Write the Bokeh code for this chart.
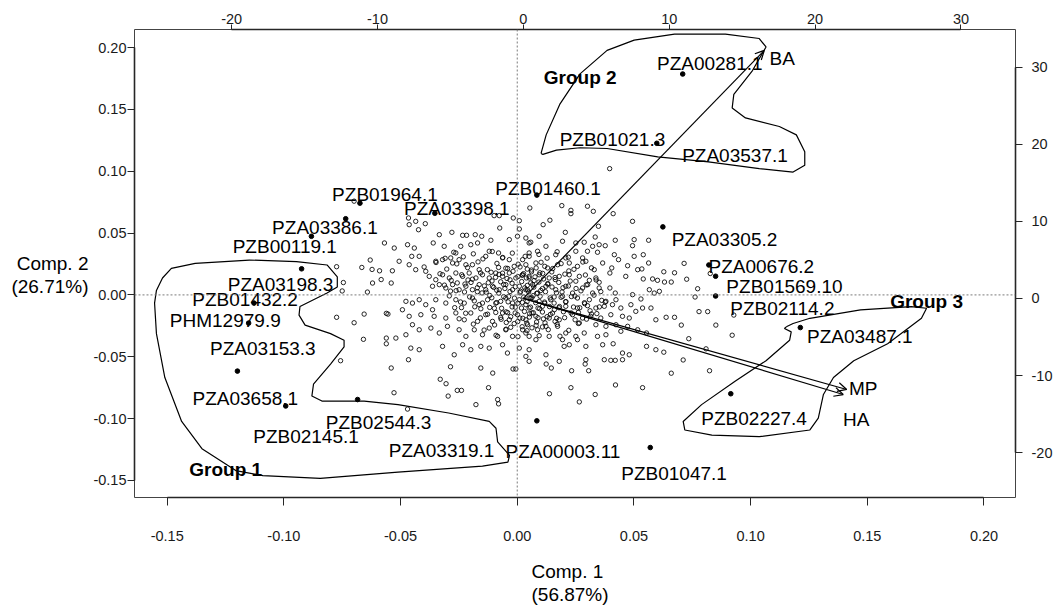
from bokeh.plotting import figure
from bokeh.models import (Range1d, LinearAxis, FixedTicker, PrintfTickFormatter,
                          Span, Arrow, OpenHead, Title)
from bokeh.core.properties import value
from bokeh.embed import file_html
from bokeh.resources import INLINE

FONT = "Liberation Sans"

# ---------------- data ----------------
# Comp.1 / Comp.2 scores of the unlabelled markers (open circles)
background_scores = [
    (-0.0699, 0.0758), (-0.0774, 0.0228), (-0.0745, 0.0100), (-0.0750, 0.0032), (-0.0666, 0.0222),
    (-0.0630, 0.0282), (-0.0622, 0.0206), (-0.0590, 0.0195), (-0.0642, 0.0023), (-0.0620, 0.0096),
    (-0.0583, 0.0124), (-0.0569, 0.0420), (-0.0540, 0.0096), (-0.0535, 0.0195),
    (-0.0774, -0.0181), (-0.0656, -0.0155), (-0.0699, -0.0225), (-0.0659, -0.0359), (-0.0757, -0.0532),
    (-0.0561, -0.0149), (-0.0554, -0.0155), (-0.0561, -0.0349), (-0.0561, -0.0395), (-0.0540, -0.0591),
    (-0.0528, -0.0791), (-0.0470, -0.0923), (-0.0286, -0.0581), (-0.0330, -0.0682), (-0.0305, -0.0718),
    (-0.0296, -0.0818), (-0.0257, -0.0772), (-0.0239, -0.0772), (-0.0177, -0.0887), (-0.0156, -0.0591),
    (-0.0105, -0.0632), (-0.0123, -0.0750), (-0.0084, -0.0846), (-0.0080, -0.0881), (-0.0018, -0.0599),
    (-0.0006, -0.0599),
    (-0.0466, 0.0622), (-0.0463, 0.0568), (-0.0435, 0.0595), (-0.0394, 0.0576), (-0.0423, 0.0527),
    (-0.0334, 0.0487), (-0.0280, 0.0506), (-0.0234, 0.0482), (-0.0217, 0.0482), (-0.0180, 0.0487),
    (-0.0152, 0.0474), (-0.0099, 0.0641), (-0.0077, 0.0641), (-0.0075, 0.0541), (-0.0017, 0.0622),
    (0.0009, 0.0600), (0.0009, 0.0533),
    (-0.0470, 0.0406), (-0.0441, 0.0379), (-0.0452, 0.0312), (-0.0420, 0.0312), (-0.0360, 0.0420),
    (-0.0313, 0.0393), (-0.0263, 0.0339), (-0.0242, 0.0393), (-0.0199, 0.0406), (-0.0170, 0.0420),
    (-0.0113, 0.0442), (-0.0034, 0.0447), (0.0001, 0.0474), (0.0037, 0.0460), (0.0058, 0.0426),
    (-0.0527, 0.0379), (-0.0506, 0.0272), (-0.0463, 0.0244), (-0.0435, 0.0204), (-0.0399, 0.0226),
    (-0.0392, 0.0191), (-0.0349, 0.0272), (-0.0320, 0.0285), (-0.0285, 0.0299), (-0.0277, 0.0258),
    (-0.0249, 0.0285), (-0.0220, 0.0244), (-0.0192, 0.0244), (-0.0163, 0.0204), (-0.0135, 0.0312),
    (-0.0120, 0.0353), (-0.0080, 0.0339), (-0.0063, 0.0299), (-0.0034, 0.0285), (-0.0013, 0.0231),
    (0.0023, 0.0285), (0.0051, 0.0339),
    (-0.0377, 0.0150), (-0.0349, 0.0123), (-0.0320, 0.0163), (-0.0291, 0.0137), (-0.0263, 0.0177),
    (-0.0234, 0.0150), (-0.0206, 0.0177), (-0.0177, 0.0137), (-0.0149, 0.0163), (-0.0120, 0.0137),
    (-0.0092, 0.0177), (-0.0063, 0.0150), (-0.0034, 0.0177), (-0.0006, 0.0137), (0.0023, 0.0163),
    (0.0051, 0.0137),
    (-0.0363, 0.0070), (-0.0334, 0.0083), (-0.0306, 0.0056), (-0.0277, 0.0083), (-0.0249, 0.0042),
    (-0.0220, 0.0070), (-0.0192, 0.0042), (-0.0163, 0.0083), (-0.0135, 0.0042), (-0.0106, 0.0070),
    (-0.0077, 0.0042), (-0.0049, 0.0083), (-0.0020, 0.0042), (0.0009, 0.0070), (0.0037, 0.0042),
    (0.0066, 0.0083),
    (-0.0477, -0.0052), (-0.0449, -0.0066), (-0.0420, -0.0039), (-0.0392, -0.0079), (-0.0349, -0.0039),
    (-0.0306, -0.0066), (-0.0263, -0.0039), (-0.0227, -0.0066), (-0.0192, -0.0025), (-0.0163, -0.0079),
    (-0.0127, -0.0039), (-0.0092, -0.0066), (-0.0049, -0.0025), (-0.0020, -0.0066), (0.0009, -0.0039),
    (0.0037, -0.0079), (0.0058, -0.0025),
    (-0.0492, -0.0120), (-0.0463, -0.0173), (-0.0413, -0.0160), (-0.0363, -0.0120), (-0.0356, -0.0173),
    (-0.0306, -0.0187), (-0.0263, -0.0146), (-0.0227, -0.0201), (-0.0199, -0.0146), (-0.0170, -0.0214),
    (-0.0135, -0.0160), (-0.0106, -0.0214), (-0.0063, -0.0146), (-0.0034, -0.0201), (0.0001, -0.0160),
    (0.0037, -0.0201), (0.0063, -0.0146),
    (-0.0520, -0.0349), (-0.0477, -0.0322), (-0.0449, -0.0241), (-0.0420, -0.0282), (-0.0370, -0.0268),
    (-0.0334, -0.0308), (-0.0299, -0.0254), (-0.0249, -0.0282), (-0.0220, -0.0335), (-0.0184, -0.0282),
    (-0.0149, -0.0322), (-0.0120, -0.0268), (-0.0084, -0.0335), (-0.0049, -0.0282), (-0.0020, -0.0335),
    (0.0023, -0.0282), (0.0051, -0.0335),
    (-0.0456, -0.0430), (-0.0420, -0.0443), (-0.0320, -0.0416), (-0.0270, -0.0484), (-0.0234, -0.0403),
    (-0.0199, -0.0443), (-0.0156, -0.0416), (-0.0120, -0.0430), (-0.0063, -0.0403), (-0.0042, -0.0470),
    (0.0009, -0.0430), (0.0037, -0.0497), (0.0051, -0.0537), (-0.0466, -0.0524),
    (0.0054, 0.0703), (0.0191, 0.0722), (0.0230, 0.0684), (0.0230, 0.0657), (0.0301, 0.0717),
    (0.0326, 0.0676), (0.0411, 0.0657), (0.0111, 0.0568), (0.0140, 0.0604), (0.0206, 0.0506),
    (0.0348, 0.0555), (0.0494, 0.0595), (0.0094, 0.0474),
    (0.0051, 0.0420), (0.0123, 0.0393), (0.0165, 0.0325), (0.0194, 0.0434), (0.0251, 0.0420),
    (0.0287, 0.0426), (0.0323, 0.0393), (0.0351, 0.0406), (0.0377, 0.0398), (0.0420, 0.0442),
    (0.0501, 0.0447), (0.0494, 0.0398), (0.0563, 0.0442), (0.0334, 0.0468), (0.0251, 0.0353),
    (0.0301, 0.0353), (0.0344, 0.0345), (0.0416, 0.0325), (0.0434, 0.0285), (0.0501, 0.0312),
    (0.0540, 0.0325), (0.0563, 0.0258), (0.0051, 0.0312), (0.0087, 0.0353), (0.0208, 0.0299),
    (0.0280, 0.0299),
    (0.0037, 0.0244), (0.0080, 0.0258), (0.0130, 0.0218), (0.0173, 0.0244), (0.0223, 0.0258),
    (0.0258, 0.0231), (0.0294, 0.0272), (0.0330, 0.0204), (0.0366, 0.0258), (0.0397, 0.0177),
    (0.0405, 0.0218), (0.0473, 0.0236), (0.0516, 0.0204), (0.0534, 0.0210), (0.0465, 0.0150),
    (0.0540, 0.0129), (0.0580, 0.0129), (0.0601, 0.0118), (0.0337, 0.0137), (0.0351, 0.0102),
    (0.0309, 0.0118), (0.0266, 0.0150), (0.0223, 0.0163), (0.0180, 0.0150), (0.0137, 0.0137),
    (0.0094, 0.0163), (0.0051, 0.0150),
    (0.0044, 0.0042), (0.0087, 0.0015), (0.0123, 0.0070), (0.0165, 0.0042), (0.0208, 0.0070),
    (0.0237, 0.0015), (0.0280, 0.0056), (0.0323, 0.0015), (0.0351, 0.0056), (0.0397, 0.0056),
    (0.0420, 0.0015), (0.0423, -0.0039), (0.0494, 0.0002), (0.0530, -0.0033), (0.0566, 0.0042),
    (0.0587, 0.0015), (0.0609, 0.0029), (0.0380, -0.0052), (0.0309, -0.0039), (0.0258, -0.0025),
    (0.0194, -0.0011), (0.0144, -0.0039), (0.0094, -0.0052), (0.0051, -0.0025),
    (0.0051, -0.0106), (0.0108, -0.0092), (0.0159, -0.0120), (0.0208, -0.0092), (0.0258, -0.0106),
    (0.0301, -0.0087), (0.0337, -0.0106), (0.0373, -0.0092), (0.0408, -0.0079), (0.0444, -0.0106),
    (0.0487, -0.0079), (0.0508, -0.0133), (0.0537, -0.0106), (0.0573, -0.0106), (0.0594, -0.0201),
    (0.0080, -0.0173), (0.0137, -0.0187), (0.0180, -0.0201), (0.0237, -0.0160), (0.0280, -0.0187),
    (0.0315, -0.0173), (0.0358, -0.0187), (0.0401, -0.0160), (0.0451, -0.0173), (0.0480, -0.0187),
    (0.0044, -0.0241), (0.0087, -0.0282), (0.0123, -0.0254), (0.0173, -0.0254), (0.0208, -0.0308),
    (0.0266, -0.0227), (0.0287, -0.0308), (0.0337, -0.0241), (0.0380, -0.0254), (0.0423, -0.0241),
    (0.0444, -0.0294), (0.0473, -0.0254), (0.0380, -0.0322), (0.0344, -0.0335), (0.0251, -0.0335),
    (0.0194, -0.0362), (0.0137, -0.0335), (0.0080, -0.0362), (0.0037, -0.0308), (0.0554, -0.0308),
    (0.0516, -0.0282),
    (0.0051, -0.0443), (0.0123, -0.0484), (0.0201, -0.0416), (0.0223, -0.0403), (0.0258, -0.0362),
    (0.0294, -0.0416), (0.0366, -0.0403), (0.0411, -0.0395), (0.0451, -0.0470), (0.0480, -0.0484),
    (0.0373, -0.0524), (0.0401, -0.0529), (0.0420, -0.0529), (0.0451, -0.0524), (0.0294, -0.0524),
    (0.0180, -0.0537), (0.0554, -0.0416), (0.0594, -0.0443),
    (0.0396, 0.1021), (0.0628, 0.0187), (0.0674, 0.0179), (0.0715, 0.0255), (0.0726, 0.0127),
    (0.0773, 0.0050), (0.0827, 0.0173), (0.0631, 0.0104), (0.0660, 0.0104),
    (0.0762, -0.0017), (0.0779, -0.0135), (0.0816, -0.0135), (0.0851, -0.0244), (0.0921, -0.0326),
    (0.0928, -0.0163), (0.0638, -0.0181), (0.0674, -0.0181), (0.0703, -0.0244), (0.0735, -0.0354),
    (0.0809, -0.0436), (0.0711, -0.0526), (0.0824, -0.0613), (0.0660, -0.0633), (0.0628, -0.0463),
    (0.0537, -0.0750), (0.0421, -0.0728), (0.0334, -0.0805), (0.0266, -0.0865), (0.0230, -0.0750),
    (0.0138, -0.0799), (0.0233, -0.0613), (0.0291, -0.0559), (0.0306, -0.0613), (0.0146, -0.0591),
    (0.0124, -0.0559),
]
# the solid black core of the cloud (estimated by eye)
core_scores = [
    (-0.0080, 0.0222), (-0.0041, 0.0214), (0.0012, 0.0226), (0.0043, 0.0209), (0.0081, 0.0218),
    (0.0118, 0.0231), (-0.0112, 0.0183), (-0.0063, 0.0176), (-0.0018, 0.0191), (0.0027, 0.0172),
    (0.0061, 0.0187), (0.0097, 0.0179), (0.0148, 0.0186), (-0.0093, 0.0142), (-0.0044, 0.0133),
    (0.0003, 0.0148), (0.0039, 0.0137), (0.0076, 0.0146), (0.0113, 0.0129), (0.0162, 0.0141),
    (-0.0124, 0.0098), (-0.0071, 0.0106), (-0.0022, 0.0094), (0.0019, 0.0108), (0.0058, 0.0097),
    (0.0093, 0.0104), (0.0131, 0.0092), (0.0178, 0.0101), (-0.0101, 0.0061), (-0.0053, 0.0052),
    (-0.0008, 0.0066), (0.0032, 0.0057), (0.0071, 0.0063), (0.0108, 0.0051), (0.0149, 0.0064),
    (0.0196, 0.0058), (-0.0133, 0.0022), (-0.0079, 0.0014), (-0.0031, 0.0027), (0.0012, 0.0018),
    (0.0049, 0.0024), (0.0083, 0.0012), (0.0121, 0.0026), (0.0168, 0.0017), (-0.0109, -0.0023),
    (-0.0058, -0.0014), (-0.0012, -0.0026), (0.0028, -0.0017), (0.0063, -0.0022), (0.0098, -0.0011),
    (0.0141, -0.0024), (0.0188, -0.0019), (0.0232, -0.0013), (-0.0088, -0.0062), (-0.0039, -0.0056),
    (0.0003, -0.0067), (0.0042, -0.0054), (0.0079, -0.0063), (0.0117, -0.0058), (0.0158, -0.0066),
    (0.0207, -0.0055), (-0.0118, -0.0101), (-0.0067, -0.0108), (-0.0022, -0.0097), (0.0018, -0.0106),
    (0.0057, -0.0099), (0.0096, -0.0111), (0.0138, -0.0094), (0.0179, -0.0104), (0.0241, -0.0098),
    (-0.0092, -0.0142), (-0.0048, -0.0137), (-0.0009, -0.0146), (0.0031, -0.0134), (0.0069, -0.0144),
    (0.0108, -0.0138), (0.0151, -0.0147), (0.0198, -0.0136), (-0.0071, -0.0182), (-0.0028, -0.0176),
    (0.0011, -0.0187), (0.0052, -0.0179), (0.0089, -0.0184), (0.0128, -0.0176), (0.0169, -0.0189),
    (-0.0047, -0.0223), (0.0002, -0.0216), (0.0041, -0.0228), (0.0083, -0.0219), (0.0119, -0.0226),
    (0.0162, -0.0214), (-0.0028, -0.0262), (0.0021, -0.0257), (0.0063, -0.0266), (0.0108, -0.0259),
    (-0.0198, 0.0101), (-0.0171, 0.0058), (-0.0226, 0.0024), (-0.0184, -0.0048), (-0.0151, 0.0016),
    (-0.0239, -0.0103), (-0.0211, 0.0121), (-0.0286, 0.0031), (-0.0257, 0.0097), (-0.0156, -0.0112),
    (0.0262, -0.0142), (0.0289, -0.0071), (0.0252, 0.0052), (0.0227, 0.0112), (0.0312, -0.0128),
    (0.0341, -0.0151), (0.0296, 0.0081), (0.0248, -0.0201), (0.0221, 0.0194), (0.0362, -0.0044),
]
# the dense ring around the core (estimated by eye)
inner_scores = [
    (-0.0272, 0.0345), (-0.0188, 0.0332), (-0.0107, 0.0351), (-0.0021, 0.0338), (0.0093, 0.0327),
    (0.0171, 0.0349), (-0.0309, 0.0296), (-0.0231, 0.0308), (-0.0147, 0.0291), (-0.0062, 0.0303),
    (0.0034, 0.0312), (0.0128, 0.0297), (0.0219, 0.0305), (-0.0348, 0.0262), (-0.0259, 0.0251),
    (-0.0168, 0.0267), (-0.0087, 0.0255), (0.0004, 0.0248), (0.0102, 0.0264), (0.0188, 0.0253),
    (0.0281, 0.0266), (-0.0302, 0.0209), (-0.0213, 0.0221), (-0.0128, 0.0204), (-0.0049, 0.0216),
    (0.0061, 0.0201), (0.0152, 0.0213), (0.0243, 0.0207), (0.0318, 0.0219), (-0.0331, 0.0171),
    (-0.0238, 0.0163), (-0.0157, 0.0178), (-0.0078, 0.0166), (0.0021, 0.0159), (0.0109, 0.0174),
    (0.0204, 0.0168), (0.0292, 0.0161), (-0.0283, 0.0118), (-0.0192, 0.0127), (-0.0108, 0.0113),
    (-0.0031, 0.0122), (0.0072, 0.0116), (0.0163, 0.0124), (0.0251, 0.0111), (0.0338, 0.0121),
    (-0.0312, 0.0079), (-0.0224, 0.0088), (-0.0141, 0.0073), (-0.0058, 0.0084), (0.0043, 0.0077),
    (0.0131, 0.0086), (0.0219, 0.0072), (0.0302, 0.0083), (-0.0262, 0.0034), (-0.0171, 0.0026),
    (-0.0088, 0.0038), (0.0014, 0.0029), (0.0101, 0.0036), (0.0192, 0.0024), (0.0273, 0.0033),
    (0.0358, 0.0027), (-0.0291, -0.0008), (-0.0204, -0.0016), (-0.0118, -0.0004), (-0.0037, -0.0013),
    (0.0068, -0.0006), (0.0158, -0.0017), (0.0247, -0.0009), (0.0329, -0.0002), (-0.0243, -0.0057),
    (-0.0149, -0.0066), (-0.0071, -0.0052), (0.0022, -0.0061), (0.0118, -0.0068), (0.0209, -0.0055),
    (0.0288, -0.0063), (0.0377, -0.0058), (-0.0268, -0.0103), (-0.0182, -0.0096), (-0.0098, -0.0108),
    (-0.0008, -0.0099), (0.0089, -0.0106), (0.0181, -0.0094), (0.0268, -0.0104), (0.0352, -0.0097),
    (-0.0221, -0.0148), (-0.0127, -0.0156), (-0.0041, -0.0143), (0.0053, -0.0152), (0.0142, -0.0158),
    (0.0231, -0.0146), (0.0318, -0.0154), (-0.0249, -0.0193), (-0.0158, -0.0186), (-0.0069, -0.0197),
    (0.0024, -0.0189), (0.0112, -0.0194), (0.0203, -0.0184), (0.0297, -0.0196), (-0.0188, -0.0236),
    (-0.0097, -0.0243), (-0.0013, -0.0232), (0.0081, -0.0246), (0.0171, -0.0238), (0.0262, -0.0231),
    (-0.0142, -0.0284), (-0.0048, -0.0277), (0.0042, -0.0289), (0.0133, -0.0281), (0.0221, -0.0286),
    (-0.0091, -0.0326), (0.0003, -0.0337), (0.0094, -0.0329), (0.0183, -0.0334),
]
all_scores = background_scores + core_scores + inner_scores
pc1 = [s[0] for s in all_scores]
pc2 = [s[1] for s in all_scores]

# highlighted (labelled) markers: filled dots
highlight_pc1 = [-0.0674, -0.0353, -0.0735, -0.0882, -0.0924, -0.1128, -0.1151, -0.1199, -0.0992,
                 -0.0684, 0.0084, 0.0570, 0.0915, 0.1213, 0.0850, 0.0850, 0.0821, 0.0624, 0.0084,
                 0.0709, 0.0598]
highlight_pc2 = [0.0742, 0.0660, 0.0616, 0.0474, 0.0211, -0.0066, -0.0228, -0.0616, -0.0898,
                 -0.0846, -0.1018, -0.1234, -0.0799, -0.0264, -0.0009, 0.0151, 0.0242, 0.0550, 0.0807,
                 0.1786, 0.1226]

marker_names = ["PZB01964.1", "PZA03398.1", "PZA03386.1", "PZB00119.1", "PZA03198.3",
                "PZB01432.2", "PHM12979.9", "PZA03153.3", "PZA03658.1", "PZB02145.1",
                "PZB02544.3", "PZA03319.1", "PZA00003.11", "PZB01047.1", "PZB02227.4",
                "PZA03487.1", "PZB02114.2", "PZB01569.10", "PZA00676.2", "PZA03305.2",
                "PZB01460.1", "PZA00281.1", "PZB01021.3", "PZA03537.1"]
name_pc1 = [-0.0567, -0.0259, -0.0824, -0.0996, -0.1014, -0.1166, -0.1251, -0.1090, -0.1165,
            -0.0905, -0.0594, -0.0324, 0.0196, 0.0672, 0.1015, 0.1468, 0.1136, 0.1145, 0.1046,
            0.0888, 0.0132, 0.0825, 0.0408, 0.0933]
name_pc2 = [0.0851, 0.0743, 0.0583, 0.0433, 0.0124, 0.0007, -0.0163, -0.0389, -0.0799,
            -0.1106, -0.0991, -0.1214, -0.1222, -0.1406, -0.0955, -0.0299, -0.0066, 0.0110, 0.0269,
            0.0488, 0.0903, 0.1909, 0.1299, 0.1166]

# trait loadings (secondary axes)
trait_names = ["BA", "MP", "HA"]
trait_load1 = [16.52, 22.17, 21.93]
trait_load2 = [32.19, -11.81, -12.47]
trait_text1 = [17.75, 23.30, 22.82]
trait_text2 = [31.77, -11.06, -15.10]

# group outlines
group1_pc1 = [-0.1546, -0.1520, -0.1482, -0.1380, -0.1148, -0.0946, -0.0815, -0.0771, -0.0771, -0.0815,
              -0.0931, -0.0935, -0.0909, -0.0800, -0.0742, -0.0742, -0.0800, -0.0873, -0.0880, -0.0837,
              -0.0656, -0.0511, -0.0294, -0.0120, -0.0091, -0.0084, -0.0033, -0.0040, -0.0149, -0.0511,
              -0.0844, -0.1090, -0.1206, -0.1351, -0.1438, -0.1510, -0.1546, -0.1554]
group1_pc2 = [0.0036, 0.0137, 0.0214, 0.0255, 0.0282, 0.0269, 0.0242, 0.0145, 0.0064, 0.0015,
              -0.0094, -0.0163, -0.0244, -0.0313, -0.0367, -0.0421, -0.0559, -0.0722, -0.0818, -0.0858,
              -0.0858, -0.0887, -0.0955, -0.1023, -0.1078, -0.1188, -0.1297, -0.1352, -0.1384, -0.1433,
              -0.1483, -0.1461, -0.1420, -0.1243, -0.1023, -0.0668, -0.0313, -0.0066]
group2_pc1 = [0.0102, 0.0124, 0.0182, 0.0269, 0.0385, 0.0501, 0.0674, 0.0892, 0.1037, 0.1066,
              0.1008, 0.0928, 0.0921, 0.0978, 0.1123, 0.1196, 0.1232, 0.1232, 0.1182, 0.1037,
              0.0819, 0.0602, 0.0385, 0.0269, 0.0168, 0.0110]
group2_pc2 = [0.1144, 0.1294, 0.1540, 0.1787, 0.1977, 0.2060, 0.2109, 0.2109, 0.2073, 0.2005,
              0.1814, 0.1622, 0.1512, 0.1431, 0.1362, 0.1294, 0.1158, 0.1048, 0.0993, 0.1021,
              0.1075, 0.1116, 0.1184, 0.1190, 0.1171, 0.1136]
group3_pc1 = [0.1153, 0.1182, 0.1254, 0.1471, 0.1688, 0.1754, 0.1732, 0.1587, 0.1442, 0.1355,
              0.1312, 0.1290, 0.1254, 0.1037, 0.0834, 0.0718, 0.0711, 0.0790, 0.0935, 0.1066,
              0.1167, 0.1174, 0.1145]
group3_pc2 = [-0.0258, -0.0231, -0.0189, -0.0121, -0.0094, -0.0108, -0.0189, -0.0395, -0.0532, -0.0668,
              -0.0805, -0.0996, -0.1092, -0.1146, -0.1133, -0.1092, -0.1023, -0.0887, -0.0696, -0.0532,
              -0.0367, -0.0299, -0.0272]
group_names = ["Group 1", "Group 2", "Group 3"]
group_text1 = [-0.1249, 0.0270, 0.1754]
group_text2 = [-0.1368, 0.1795, -0.0009]

score_ticks = [-0.15, -0.10, -0.05, 0.00, 0.05, 0.10, 0.15, 0.20]
loading_ticks = [-20, -10, 0, 10, 20, 30]
x_title = ["Comp. 1", "(56.87%)"]
y_title = ["Comp. 2", "(26.71%)"]

# ---------------- figure ----------------
p = figure(frame_width=881, frame_height=468,
           min_border_left=134, min_border_top=29, min_border_bottom=100, min_border_right=36,
           x_range=Range1d(-0.164, 0.2135), y_range=Range1d(-0.1638, 0.2146),
           output_backend="svg", toolbar_location=None)
p.extra_x_ranges = {"load": Range1d(-26.66, 33.74)}
p.extra_y_ranges = {"load": Range1d(-25.83, 34.90)}
p.xgrid.visible = False
p.ygrid.visible = False
p.outline_line_color = "#444444"
p.outline_line_width = 1
p.background_fill_color = "white"
p.border_fill_color = "white"


def style_axis(ax, standoff, tick_out):
    ax.axis_line_color = "#262626"
    ax.axis_line_width = 1.6
    ax.major_tick_line_color = "#262626"
    ax.major_tick_line_width = 1
    ax.major_tick_out = tick_out
    ax.major_tick_in = 0
    ax.minor_tick_line_color = None
    ax.major_label_text_font = FONT
    ax.major_label_text_font_size = "14.5px"
    ax.major_label_text_color = "#1a1a1a"
    ax.major_label_standoff = standoff


p.xaxis.ticker = FixedTicker(ticks=score_ticks)
p.xaxis.formatter = PrintfTickFormatter(format="%.2f")
p.xaxis.bounds = (score_ticks[0], score_ticks[-1])
style_axis(p.xaxis[0], 25, 8)
p.yaxis.ticker = FixedTicker(ticks=score_ticks)
p.yaxis.formatter = PrintfTickFormatter(format="%.2f")
p.yaxis.bounds = (score_ticks[0], score_ticks[-1])
style_axis(p.yaxis[0], 1, 7)

# y-axis title: a tick-less axis further out on the left, carrying only the label
# (a leading blank line moves the two visible lines down to where the reference has them)
y_title_axis = LinearAxis(ticker=FixedTicker(ticks=[]), bounds=(-0.120, 0.158),
                          axis_line_color=None, major_tick_line_color=None,
                          minor_tick_line_color=None, major_label_text_font_size="0px",
                          axis_label="\n" + "\n".join(y_title), axis_label_orientation="horizontal",
                          axis_label_text_font=FONT, axis_label_text_font_size="19px",
                          axis_label_text_font_style="normal", axis_label_text_color="black",
                          axis_label_text_line_height=1.1, axis_label_standoff=2)
p.add_layout(y_title_axis, "left")

top_axis = LinearAxis(x_range_name="load", ticker=FixedTicker(ticks=loading_ticks),
                      formatter=PrintfTickFormatter(format="%d"),
                      bounds=(loading_ticks[0], loading_ticks[-1]))
style_axis(top_axis, 1, 5)
p.add_layout(top_axis, "above")
right_axis = LinearAxis(y_range_name="load", ticker=FixedTicker(ticks=loading_ticks),
                        formatter=PrintfTickFormatter(format="%d"),
                        bounds=(loading_ticks[0], loading_ticks[-1]))
style_axis(right_axis, 9, 7)
p.add_layout(right_axis, "right")

# x-axis title: two lines under the tick labels
p.add_layout(Title(text="\n".join(x_title), align="left", offset=397, standoff=32,
                   text_font=FONT, text_font_size="19px", text_font_style="normal",
                   text_line_height=1.1, text_color="black"), "below")

# zero reference lines
for dim in ("height", "width"):
    p.add_layout(Span(location=0, dimension=dim, line_color="#7a7a7a",
                      line_dash="2 2", line_width=1))

# unlabelled markers
p.scatter(pc1, pc2, marker="circle", size=4.4, fill_color=None,
          line_color="black", line_width=0.85)

# group outlines
for gx, gy in ((group1_pc1, group1_pc2), (group2_pc1, group2_pc2), (group3_pc1, group3_pc2)):
    p.line(gx + gx[:1], gy + gy[:1], line_color="black", line_width=1.2)

# trait arrows
for lx, ly in zip(trait_load1, trait_load2):
    p.add_layout(Arrow(x_start=0, y_start=0, x_end=lx, y_end=ly,
                       x_range_name="load", y_range_name="load",
                       line_color="black", line_width=1.2,
                       end=OpenHead(size=9, line_color="black", line_width=1.2)))
p.text(trait_text1, trait_text2, text=trait_names, x_range_name="load", y_range_name="load",
       text_font=value(FONT), text_font_size="19px", text_align="center",
       text_baseline="middle", text_color="black", y_offset=5)

# highlighted markers
p.scatter(highlight_pc1, highlight_pc2, marker="circle", size=4.6, color="black")
p.text(name_pc1, name_pc2, text=marker_names, text_font=value(FONT), text_font_size="19px",
       text_align="center", text_baseline="middle", text_color="black", y_offset=5)

# group names
p.text(group_text1, group_text2, text=group_names, text_font=value(FONT), text_font_size="19px",
       text_font_style="bold", text_align="center", text_baseline="middle", text_color="black",
       y_offset=5)

open("out.html", "w").write(file_html(p, INLINE))
